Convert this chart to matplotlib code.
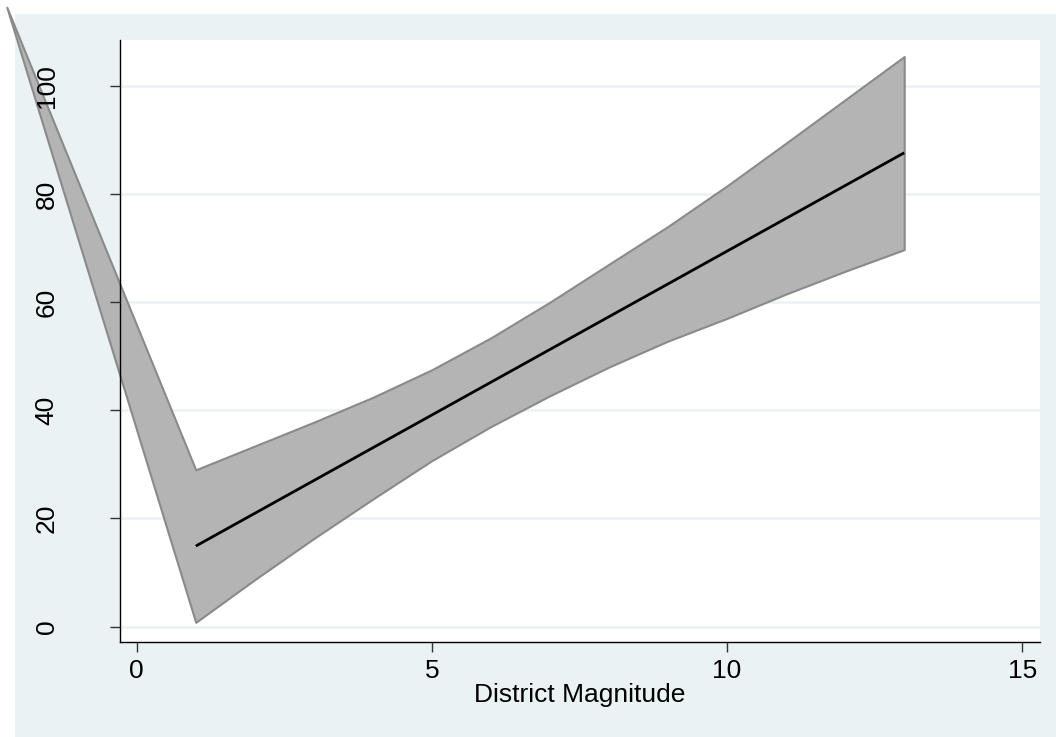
import matplotlib
matplotlib.use("Agg")
import matplotlib.pyplot as plt
from matplotlib.patches import Rectangle

# ---- data ----
band_x = [-2.2, 1, 2, 3, 4, 5, 6, 7, 8, 9, 10, 11, 12, 13]
band_upper = [114.5, 29.0, 33.4, 37.8, 42.4, 47.5, 53.4, 60.0, 67.0, 74.0, 81.5, 89.4, 97.4, 105.4]
band_lower = [114.5, 0.8, 8.7, 16.3, 23.6, 30.7, 37.0, 42.7, 48.0, 52.8, 57.0, 61.5, 65.7, 69.7]
line_x = [1, 13]
line_y = [14.9, 87.6]

x_ticks = [0, 5, 10, 15]
y_ticks = [0, 20, 40, 60, 80, 100]
x_label = "District Magnitude"

BG = "#EAF2F3"
FONT = "Liberation Sans"
FS = 19

W, H = 1056, 737
fig = plt.figure(figsize=(W / 100, H / 100), dpi=100)
fig.patch.set_facecolor("white")
fig.patches.append(Rectangle((15 / W, 0), 1 - 15 / W, 1 - 14 / H,
                             transform=fig.transFigure, facecolor=BG,
                             edgecolor="none", zorder=-10))

ax = fig.add_axes([120 / W, 1 - 642 / H, (1040 - 120) / W, (642 - 40) / H])
ax.set_facecolor("white")

for yt in y_ticks:
    ax.axhline(yt, color=BG, linewidth=1.8, zorder=1)

ax.fill_between(band_x, band_lower, band_upper, facecolor="#B4B4B4",
                edgecolor="#8A8A8A", linewidth=1.5, clip_on=False, zorder=2)
ax.plot(line_x, line_y, color="black", linewidth=2.0, zorder=2.2,
        solid_capstyle="butt")

ax.set_xlim(-0.283, 15.30)
ax.set_ylim(-2.83, 108.45)
ax.set_xticks(x_ticks)
ax.set_yticks(y_ticks)
ax.set_xticklabels([str(t) for t in x_ticks], fontfamily=FONT, fontsize=FS)
ax.set_yticklabels([str(t) for t in y_ticks], fontfamily=FONT, fontsize=FS,
                   rotation=90, va="center")

ax.set_axisbelow(False)

for s in ["top", "right"]:
    ax.spines[s].set_visible(False)
for s in ["left", "bottom"]:
    ax.spines[s].set_color("black")
    ax.spines[s].set_linewidth(1.0)

ax.tick_params(axis="y", length=7.2, width=1.0, color="#333333", pad=37)
ax.tick_params(axis="x", length=7.2, width=1.0, color="#333333", pad=5)

ax.set_xlabel(x_label, fontfamily=FONT, fontsize=FS, labelpad=0)

fig.savefig("out.png", dpi=100, facecolor=fig.get_facecolor())
